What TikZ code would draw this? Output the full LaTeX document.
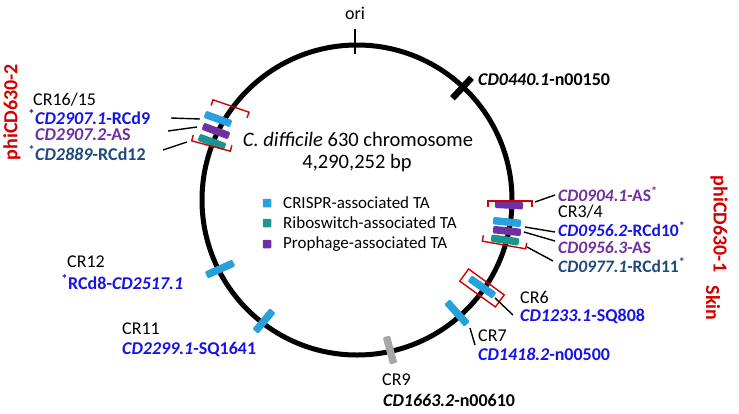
\documentclass[tikz,border=0pt]{standalone}
\usepackage{fontspec}
\setmainfont{Carlito}
\usetikzlibrary{calc}
\definecolor{tblue}{RGB}{20,20,230}
\definecolor{tpurple}{RGB}{112,48,160}
\definecolor{tnavy}{RGB}{31,73,125}
\definecolor{tred}{RGB}{210,0,0}
\definecolor{bcyan}{RGB}{40,160,220}
\definecolor{bteal}{RGB}{26,150,145}
\definecolor{bpurple}{RGB}{112,48,160}
\definecolor{bgray}{RGB}{166,166,166}
\tikzset{
  chrom/.style={line width=5pt, black},
  bar/.style={rectangle, rounded corners=1.2pt, minimum width=28pt, minimum height=7.5pt, inner sep=0pt, draw=none},
  cyanbar/.style={bar, fill=bcyan},
  tealbar/.style={bar, fill=bteal},
  purplebar/.style={bar, fill=bpurple},
  graybar/.style={bar, fill=bgray},
  lbl/.style={anchor=west, inner sep=0pt, font=\fontsize{18}{20}\selectfont},
  gene/.style={lbl, font=\fontsize{18}{20}\selectfont\bfseries},
  rgene/.style={lbl, font=\fontsize{17.5}{19}\selectfont\bfseries},
  leader/.style={line width=1.4pt, black},
  brk/.style={line width=1.4pt, tred},
  side/.style={inner sep=0pt, text=tred, font=\fontsize{20}{22}\selectfont\bfseries},
  legsq/.style={rectangle, minimum size=8.5pt, inner sep=0pt, rounded corners=0.8pt},
  legtxt/.style={anchor=west, inner sep=0pt, font=\fontsize{17}{19}\selectfont}
}
\newcommand{\gn}[1]{\textit{#1}}
\begin{document}
\begin{tikzpicture}[x=1pt,y=-1pt]
\useasboundingbox (0,0) rectangle (739,413);
% chromosome
\node[circle, minimum size=310pt, inner sep=0pt] (chr) at (357,200) {};
\draw[chrom] (357,200) circle[radius=155pt];
% ori
\coordinate (oriA) at (355,29);
\coordinate (oriB) at (355,54);
\draw[line width=2pt] (oriA) -- (oriB);
\node[inner sep=0pt, font=\fontsize{18}{20}\selectfont] (ori) at (355,13) {ori};
% CD0440.1
\node[bar, fill=black, minimum width=28pt, minimum height=6.5pt, rounded corners=0pt, rotate=47] (b0440) at (462,88) {};
\node[gene] (l0440) at (478,80) {\gn{CD0440.1}-n00150};
% center text
\node[inner sep=0pt, font=\fontsize{20.5}{23}\selectfont] (title) at (358,139) {\textit{C. difficile} 630 chromosome};
\node[inner sep=0pt, font=\fontsize{20.5}{23}\selectfont] (size) at (357,163) {4,290,252 bp};
% legend
\node[legsq, fill=bcyan] (sq1) at (267,203) {};
\node[legsq, fill=bteal] (sq2) at (267,223) {};
\node[legsq, fill=bpurple] (sq3) at (267,244) {};
\node[legtxt] (lg1) at (283,203) {CRISPR-associated TA};
\node[legtxt] (lg2) at (283,223) {Riboswitch-associated TA};
\node[legtxt] (lg3) at (283,244) {Prophage-associated TA};

% ---- left group CR16/15 ----
\node[cyanbar, rotate=-20] (b2907a) at (218,119) {};
\node[purplebar, rotate=-20] (b2907b) at (216,131) {};
\node[tealbar, rotate=-20] (b2889) at (212,142) {};
\begin{scope}[shift={(231,106)}, rotate=-19]
  \draw[brk] (-19,6) -- (-19,0) -- (19,0) -- (19,6);
\end{scope}
\begin{scope}[shift={(211,146)}, rotate=-15]
  \draw[brk] (-20,-6) -- (-20,0) -- (20,0) -- (20,-6);
\end{scope}
\node[lbl] (cr16) at (33,100) {CR16/15};
\node[gene, text=tblue] (l2907a) at (35,117) {\llap{\textsuperscript{*}}\gn{CD2907.1}-RCd9};
\node[gene, text=tpurple] (l2907b) at (35,135) {\gn{CD2907.2}-AS};
\node[gene, text=tnavy] (l2889) at (35,153) {\llap{\textsuperscript{*}}\gn{CD2889}-RCd12};
\coordinate (e1a) at (171,118); \coordinate (e1b) at (200,119);
\coordinate (e2a) at (168,131); \coordinate (e2b) at (197,127);
\coordinate (e3a) at (163,150); \coordinate (e3b) at (187,142);
\draw[leader] (e1a) -- (e1b);
\draw[leader] (e2a) -- (e2b);
\draw[leader] (e3a) -- (e3b);
\node[side, rotate=90] (phi2) at (12,112) {phiCD630-2};

% ---- right group CR3/4 ----
\node[purplebar, rotate=-3] (b0904) at (509,205) {};
\node[cyanbar, rotate=-6] (b0956a) at (507,222) {};
\node[purplebar, rotate=-6] (b0956b) at (507,231) {};
\node[tealbar, rotate=-8] (b0977) at (505,240) {};
\begin{scope}[shift={(510,201)}]
  \draw[brk] (-22,6) -- (-22,0) -- (22,0) -- (22,6);
\end{scope}
\begin{scope}[shift={(504,245)}, rotate=-10]
  \draw[brk] (-22,-6) -- (-22,0) -- (22,0) -- (22,-6);
\end{scope}
\node[rgene, text=tpurple] (l0904) at (558,194) {\gn{CD0904.1}-AS\textsuperscript{*}};
\node[lbl] (cr34) at (558,212) {CR3/4};
\node[rgene, text=tblue] (l0956a) at (558,229) {\gn{CD0956.2}-RCd10\textsuperscript{*}};
\node[rgene, text=tpurple] (l0956b) at (558,248) {\gn{CD0956.3}-AS};
\node[rgene, text=tnavy] (l0977) at (558,265) {\gn{CD0977.1}-RCd11\textsuperscript{*}};
\coordinate (f1a) at (535,202); \coordinate (f1b) at (555,195);
\coordinate (f2a) at (525,227); \coordinate (f2b) at (555,232);
\coordinate (f3a) at (524,232); \coordinate (f3b) at (555,241);
\coordinate (f4a) at (527,247); \coordinate (f4b) at (553,261);
\draw[leader] (f1a) -- (f1b);
\draw[leader] (f2a) -- (f2b);
\draw[leader] (f3a) -- (f3b);
\draw[leader] (f4a) -- (f4b);
\node[side, rotate=-90] (phi1) at (719,224) {phiCD630-1};

% ---- CR6 ----
\node[cyanbar, rotate=-35, minimum width=30pt] (b1233) at (482,287) {};
\node[rectangle, draw=tred, line width=1.4pt, rotate=-36, minimum width=44pt, minimum height=15pt, inner sep=0pt] (box6) at (482,288) {};
\node[lbl] (cr6) at (520,297) {CR6};
\node[gene, text=tblue] (l1233) at (520,316) {\gn{CD1233.1}-SQ808};
\coordinate (g1a) at (495,298); \coordinate (g1b) at (513,315);
\draw[leader] (g1a) -- (g1b);
\node[side, rotate=-90] (skin) at (713,303) {Skin};

% ---- CR7 ----
\node[cyanbar, rotate=-48, minimum width=30pt] (b1418) at (457,313) {};
\node[lbl] (cr7) at (478,336) {CR7};
\node[gene, text=tblue] (l1418) at (478,354) {\gn{CD1418.2}-n00500};
\coordinate (h1a) at (470,328); \coordinate (h1b) at (475,345);
\draw[leader] (h1a) -- (h1b);

% ---- CR9 ----
\node[graybar, rotate=-75] (b1663) at (390,350) {};
\node[lbl] (cr9) at (382,380) {CR9};
\node[gene] (l1663) at (383,400) {\gn{CD1663.2}-n00610};

% ---- CR11 ----
\node[cyanbar, rotate=50, minimum width=27pt] (b2299) at (264,321) {};
\node[lbl] (cr11) at (122,329) {CR11};
\node[gene, text=tblue] (l2299) at (122,349) {\gn{CD2299.1}-SQ1641};

% ---- CR12 ----
\node[cyanbar, rotate=24, minimum width=30pt] (b2517) at (220,269) {};
\node[lbl] (cr12) at (67,262) {CR12};
\node[gene, text=tblue] (l2517) at (68,282) {\llap{\textsuperscript{*}}RCd8-\gn{CD2517.1}};
\end{tikzpicture}
\end{document}
